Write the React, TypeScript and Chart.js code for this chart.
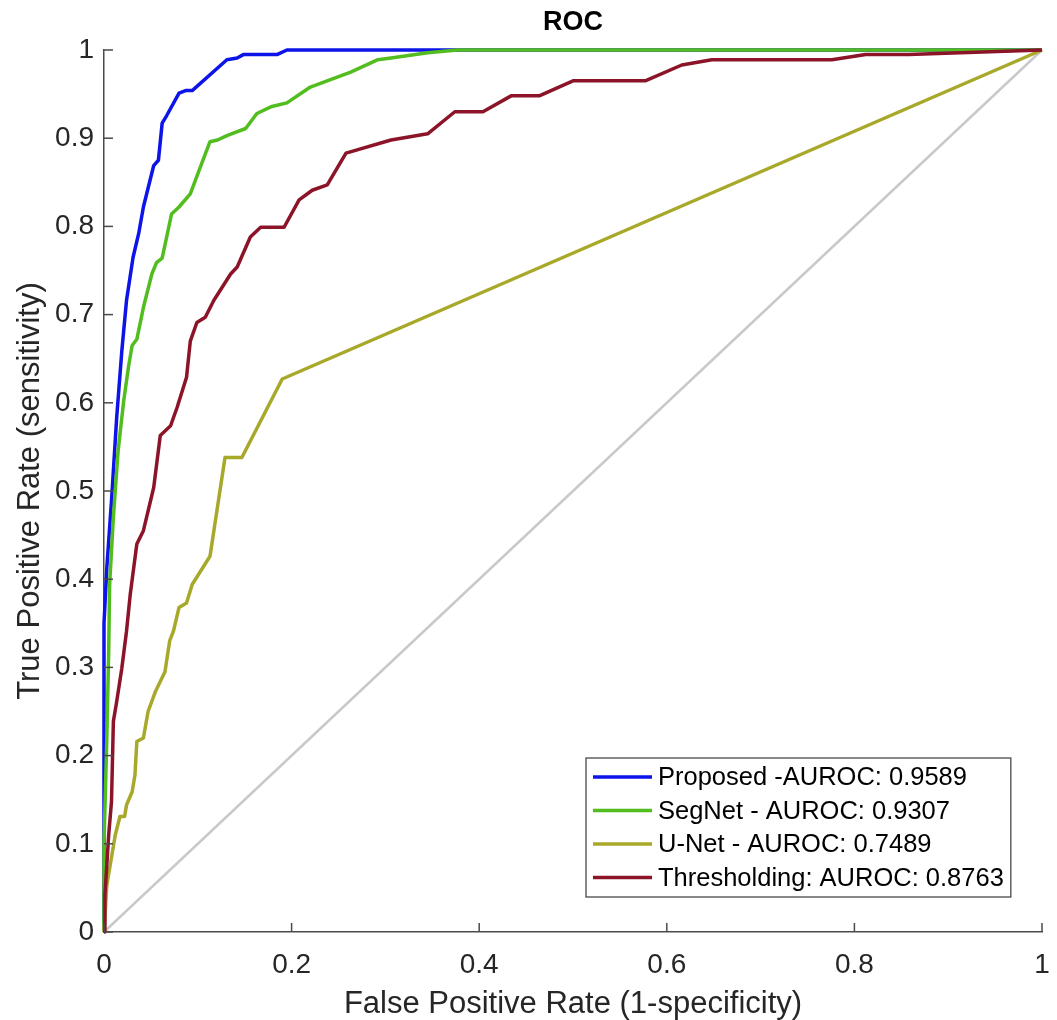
import { useEffect, useRef } from "react";
import { Chart, registerables } from "chart.js";

Chart.register(...registerables);

// ---- Data ----
const proposedFpr = [0, 0, 0.003, 0.008, 0.0135, 0.019, 0.024, 0.031, 0.037, 0.042, 0.053, 0.058, 0.062, 0.067, 0.08, 0.087, 0.094, 0.131, 0.142, 0.149, 0.185, 0.195, 1];
const proposedTpr = [0, 0.35, 0.413, 0.489, 0.583, 0.659, 0.716, 0.765, 0.792, 0.822, 0.869, 0.875, 0.917, 0.926, 0.951, 0.954, 0.954, 0.989, 0.991, 0.995, 0.995, 1, 1];

const segnetFpr = [0, 0, 0.003, 0.005, 0.006, 0.01, 0.015, 0.021, 0.026, 0.03, 0.035, 0.042, 0.051, 0.056, 0.062, 0.072, 0.08, 0.092, 0.104, 0.113, 0.121, 0.131, 0.151, 0.163, 0.179, 0.195, 0.22, 0.263, 0.292, 0.306, 0.345, 0.377, 1];
const segnetTpr = [0, 0.1, 0.22, 0.318, 0.394, 0.47, 0.545, 0.602, 0.64, 0.665, 0.672, 0.708, 0.746, 0.759, 0.764, 0.814, 0.822, 0.837, 0.871, 0.896, 0.898, 0.903, 0.911, 0.928, 0.936, 0.94, 0.958, 0.975, 0.989, 0.991, 0.997, 1, 1];

const unetFpr = [0, 0.003, 0.006, 0.012, 0.017, 0.022, 0.024, 0.03, 0.033, 0.035, 0.042, 0.047, 0.055, 0.065, 0.07, 0.074, 0.08, 0.088, 0.094, 0.113, 0.129, 0.147, 0.19, 1];
const unetTpr = [0, 0.053, 0.072, 0.11, 0.131, 0.131, 0.144, 0.159, 0.178, 0.216, 0.22, 0.25, 0.273, 0.295, 0.33, 0.341, 0.368, 0.373, 0.394, 0.426, 0.538, 0.538, 0.627, 1];

const threshFpr = [0, 0.001, 0.005, 0.008, 0.01, 0.0135, 0.019, 0.024, 0.028, 0.035, 0.042, 0.053, 0.06, 0.071, 0.078, 0.088, 0.092, 0.099, 0.108, 0.117, 0.135, 0.142, 0.156, 0.167, 0.192, 0.208, 0.222, 0.238, 0.258, 0.306, 0.345, 0.374, 0.404, 0.434, 0.464, 0.5, 0.577, 0.616, 0.648, 0.776, 0.812, 0.858, 1];
const threshTpr = [0, 0.042, 0.11, 0.148, 0.239, 0.261, 0.299, 0.341, 0.383, 0.44, 0.455, 0.504, 0.563, 0.574, 0.595, 0.629, 0.67, 0.691, 0.697, 0.716, 0.746, 0.754, 0.788, 0.799, 0.799, 0.83, 0.841, 0.847, 0.883, 0.898, 0.905, 0.93, 0.93, 0.948, 0.948, 0.965, 0.965, 0.983, 0.989, 0.989, 0.995, 0.995, 1];

const chanceFpr = [0, 1];
const chanceTpr = [0, 1];

const seriesLabels = [
  "Proposed -AUROC: 0.9589",
  "SegNet - AUROC: 0.9307",
  "U-Net - AUROC: 0.7489",
  "Thresholding: AUROC: 0.8763",
];
const seriesColors = ["#0c14e8", "#52bd1e", "#a8a82a", "#8b1428"];

const xTickValues = [0, 0.2, 0.4, 0.6, 0.8, 1];
const yTickValues = [0, 0.1, 0.2, 0.3, 0.4, 0.5, 0.6, 0.7, 0.8, 0.9, 1];

const chartTitle = "ROC";
const xTitle = "False Positive Rate (1-specificity)";
const yTitle = "True Positive Rate (sensitivity)";

const FONT = "'Liberation Sans', Arial, Helvetica, sans-serif";
const TEXT = "#262626";
const AXIS = "#4a4a4a";

function zip(xs: number[], ys: number[]) {
  const n = Math.min(xs.length, ys.length);
  const out: { x: number; y: number }[] = [];
  for (let i = 0; i < n; i++) out.push({ x: xs[i], y: ys[i] });
  return out;
}

function fmt(v: number) {
  if (Math.abs(v) < 1e-9) return "0";
  if (Math.abs(v - 1) < 1e-9) return "1";
  return v.toFixed(1);
}

const decorPlugin = {
  id: "matlabDecor",
  afterDraw(chart: any) {
    const { ctx, chartArea, scales } = chart;
    const { left, right, bottom } = chartArea;
    ctx.save();
    // inward tick marks
    ctx.strokeStyle = AXIS;
    ctx.lineWidth = 1.5;
    const tl = 9;
    for (const v of xTickValues) {
      const px = scales.x.getPixelForValue(v);
      ctx.beginPath();
      ctx.moveTo(px, bottom);
      ctx.lineTo(px, bottom - tl);
      ctx.stroke();
    }
    for (const v of yTickValues) {
      const py = scales.y.getPixelForValue(v);
      ctx.beginPath();
      ctx.moveTo(left, py);
      ctx.lineTo(left + tl, py);
      ctx.stroke();
    }
    // title
    ctx.fillStyle = "#000";
    ctx.font = `bold 27px ${FONT}`;
    ctx.textAlign = "center";
    ctx.textBaseline = "middle";
    ctx.fillText(chartTitle, (left + right) / 2, 23);

    // legend
    const items = chart.data.datasets.filter((d: any) => d.showInLegend);
    ctx.font = `25.5px ${FONT}`;
    let maxW = 0;
    for (const d of items) maxW = Math.max(maxW, ctx.measureText(d.label).width);
    const boxL = 586;
    const boxT = 758;
    const rowH = 33.5;
    const lineX0 = 593;
    const lineX1 = 652;
    const textX = 658;
    const boxR = textX + maxW + 7;
    const boxB = 897;
    ctx.fillStyle = "#fff";
    ctx.fillRect(boxL, boxT, boxR - boxL, boxB - boxT);
    ctx.strokeStyle = "#3a3a3a";
    ctx.lineWidth = 1.2;
    ctx.strokeRect(boxL, boxT, boxR - boxL, boxB - boxT);
    items.forEach((d: any, i: number) => {
      const y = 777 + i * rowH;
      ctx.strokeStyle = d.borderColor;
      ctx.lineWidth = 3.5;
      ctx.beginPath();
      ctx.moveTo(lineX0, y);
      ctx.lineTo(lineX1, y);
      ctx.stroke();
      ctx.fillStyle = "#000";
      ctx.textAlign = "left";
      ctx.textBaseline = "middle";
      ctx.fillText(d.label, textX, y + 1);
    });
    ctx.restore();
  },
};

export default function App() {
  const canvasRef = useRef<HTMLCanvasElement | null>(null);

  useEffect(() => {
    const canvas = canvasRef.current;
    if (!canvas) return;

    const curves = [
      { fpr: proposedFpr, tpr: proposedTpr },
      { fpr: segnetFpr, tpr: segnetTpr },
      { fpr: unetFpr, tpr: unetTpr },
      { fpr: threshFpr, tpr: threshTpr },
    ];
    const orders = [4, 3, 2, 1];

    const datasets: any[] = [
      {
        label: "chance",
        data: zip(chanceFpr, chanceTpr),
        borderColor: "#c9c9c9",
        borderWidth: 2.5,
        showLine: true,
        pointRadius: 0,
        order: 10,
        clip: 6,
        showInLegend: false,
      },
      ...curves.map((c, i) => ({
        label: seriesLabels[i],
        data: zip(c.fpr, c.tpr),
        borderColor: seriesColors[i],
        backgroundColor: seriesColors[i],
        borderWidth: 3.5,
        borderJoinStyle: "round",
        showLine: true,
        pointRadius: 0,
        tension: 0,
        order: orders[i],
        clip: 6,
        showInLegend: true,
      })),
    ];

    const chart = new Chart(canvas, {
      type: "scatter",
      data: { datasets },
      options: {
        animation: false,
        responsive: false,
        layout: { padding: { top: 50, right: 15, left: 0, bottom: 0 } },
        plugins: {
          legend: { display: false },
          tooltip: { enabled: false },
          title: { display: false },
        },
        scales: {
          x: {
            type: "linear",
            min: 0,
            max: 1,
            afterFit: (s: any) => {
              s.height = 88;
              s.paddingLeft = 0;
              s.paddingRight = 0;
            },
            afterBuildTicks: (s: any) => {
              s.ticks = xTickValues.map((v) => ({ value: v }));
            },
            ticks: {
              callback: (v: any) => fmt(Number(v)),
              font: { family: FONT, size: 28, lineHeight: 1.2 },
              color: TEXT,
              padding: 16,
              maxRotation: 0,
              autoSkip: false,
            },
            grid: { display: false, drawTicks: false },
            border: { display: true, color: AXIS, width: 1.5 },
            title: {
              display: true,
              text: xTitle,
              color: TEXT,
              font: { family: FONT, size: 31, lineHeight: 1 },
              padding: { top: 0, bottom: 0 },
            },
          },
          y: {
            type: "linear",
            min: 0,
            max: 1,
            afterFit: (s: any) => {
              s.width = 104;
              s.paddingTop = 0;
              s.paddingBottom = 0;
            },
            afterBuildTicks: (s: any) => {
              s.ticks = yTickValues.map((v) => ({ value: v }));
            },
            ticks: {
              callback: (v: any) => fmt(Number(v)),
              font: { family: FONT, size: 28, lineHeight: 1.2 },
              color: TEXT,
              padding: 10,
              autoSkip: false,
            },
            grid: { display: false, drawTicks: false },
            border: { display: true, color: AXIS, width: 1.5 },
            title: {
              display: true,
              text: yTitle,
              color: TEXT,
              font: { family: FONT, size: 31, lineHeight: 1 },
              padding: { top: 15, bottom: 0 },
            },
          },
        },
      },
      plugins: [decorPlugin],
    } as any);

    return () => {
      chart.destroy();
    };
  }, []);

  return (
    <div style={{ position: "absolute", left: 0, top: 0, width: 1057, height: 1020, background: "#fff" }}>
      <canvas ref={canvasRef} width={1057} height={1020} style={{ display: "block", width: 1057, height: 1020 }} />
    </div>
  );
}
